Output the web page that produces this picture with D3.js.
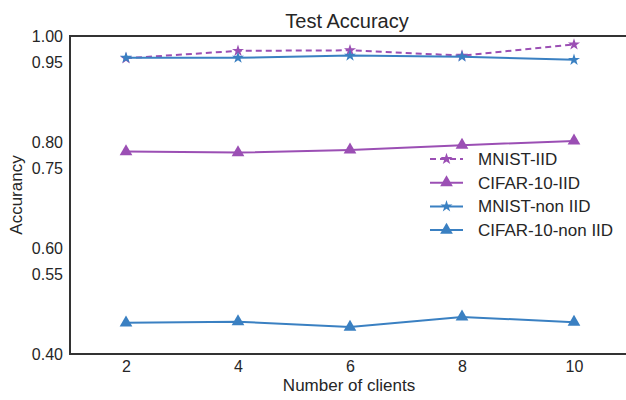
<!DOCTYPE html>
<html>
<head>
<meta charset="utf-8">
<script src="https://cdn.jsdelivr.net/npm/d3@7"></script>
<style>
  body { margin: 0; background: #fff; }
  svg { font-family: "Liberation Sans", Arial, sans-serif; }
</style>
</head>
<body>
<div id="chart"></div>
<script>
// Data
const clients = [2, 4, 6, 8, 10];
const mnistIID = [0.958, 0.972, 0.973, 0.963, 0.984];
const cifarIID = [0.782, 0.780, 0.785, 0.794, 0.802];
const mnistNonIID = [0.959, 0.959, 0.963, 0.961, 0.955];
const cifarNonIID = [0.459, 0.461, 0.451, 0.470, 0.460];
const yTicks = [0.40, 0.55, 0.60, 0.75, 0.80, 0.95, 1.00];

const purple = "#9b4fb4";
const blue = "#3a80c2";

const series = [
    {name: "MNIST-IID", values: mnistIID, color: purple, dash: "6,4", marker: "star"},
    {name: "CIFAR-10-IID", values: cifarIID, color: purple, dash: null, marker: "triangle"},
    {name: "MNIST-non IID", values: mnistNonIID, color: blue, dash: null, marker: "star"},
    {name: "CIFAR-10-non IID", values: cifarNonIID, color: blue, dash: null, marker: "triangle"}
];

const W = 626, H = 400;
const margin = {top: 36, right: -4, bottom: 46, left: 70};

const svg = d3.select("#chart")
    .append("svg")
    .attr("width", W)
    .attr("height", H);

// Scales
const x = d3.scaleLinear()
    .domain([1, 11])
    .range([margin.left, W - margin.right]);

const y = d3.scaleLinear()
    .domain([0.4, 1.0])
    .range([H - margin.bottom, margin.top]);

// Axes (no tick marks, seaborn white style)
svg.append("g")
    .attr("transform", `translate(0,${H - margin.bottom})`)
    .call(d3.axisBottom(x).tickValues(clients).tickSize(0).tickPadding(7).tickFormat(d3.format("d")))
    .call(g => g.select(".domain").remove())
    .selectAll("text")
    .attr("font-size", 16)
    .attr("font-family", "Liberation Sans, Arial, sans-serif")
    .attr("fill", "#262626");

svg.append("g")
    .attr("transform", `translate(${margin.left},0)`)
    .call(d3.axisLeft(y).tickValues(yTicks).tickSize(0).tickPadding(7).tickFormat(d3.format(".2f")))
    .call(g => g.select(".domain").remove())
    .selectAll("text")
    .attr("font-size", 16)
    .attr("font-family", "Liberation Sans, Arial, sans-serif")
    .attr("fill", "#262626");

// Frame
svg.append("rect")
    .attr("x", x(1))
    .attr("y", y(1.0))
    .attr("width", x(11) - x(1))
    .attr("height", y(0.4) - y(1.0))
    .attr("fill", "none")
    .attr("stroke", "#333")
    .attr("stroke-width", 2);

// Lines
const line = d3.line()
    .x((d, i) => x(clients[i]))
    .y(d => y(d));

const star = d3.symbol().type(d3.symbolStar).size(45);
const tri = d3.symbol().type(d3.symbolTriangle).size(70);

series.forEach(s => {
    svg.append("path")
        .datum(s.values)
        .attr("fill", "none")
        .attr("stroke", s.color)
        .attr("stroke-width", 2)
        .attr("stroke-dasharray", s.dash)
        .attr("d", line);

    svg.selectAll(null)
        .data(s.values)
        .enter()
        .append("path")
        .attr("transform", (d, i) => `translate(${x(clients[i])},${y(d)})`)
        .attr("d", s.marker === "star" ? star : tri)
        .attr("fill", s.color);
});

// Legend
const legend = svg.append("g").attr("transform", "translate(430,159)");
series.forEach((s, i) => {
    const g = legend.append("g").attr("transform", `translate(0,${i * 23.7})`);
    g.append("line")
        .attr("x1", 0).attr("x2", 33)
        .attr("stroke", s.color)
        .attr("stroke-width", 2)
        .attr("stroke-dasharray", s.dash);
    g.append("path")
        .attr("transform", "translate(16.5,0)")
        .attr("d", s.marker === "star" ? star : tri)
        .attr("fill", s.color);
    g.append("text")
        .attr("x", 48)
        .attr("dy", "0.35em")
        .attr("font-size", 17)
        .attr("fill", "#262626")
        .text(s.name);
});

// Title and axis labels
svg.append("text")
    .attr("x", (x(1) + x(11)) / 2 - 3)
    .attr("y", 28)
    .attr("text-anchor", "middle")
    .attr("font-size", 20)
    .attr("fill", "#262626")
    .text("Test Accuracy");

svg.append("text")
    .attr("x", (x(1) + x(11)) / 2 - 1)
    .attr("y", 391)
    .attr("text-anchor", "middle")
    .attr("font-size", 17)
    .attr("fill", "#262626")
    .text("Number of clients");

svg.append("text")
    .attr("transform", `translate(22,${(y(0.4) + y(1.0)) / 2}) rotate(-90)`)
    .attr("text-anchor", "middle")
    .attr("font-size", 17)
    .attr("fill", "#262626")
    .text("Accurancy");
</script>
</body>
</html>
